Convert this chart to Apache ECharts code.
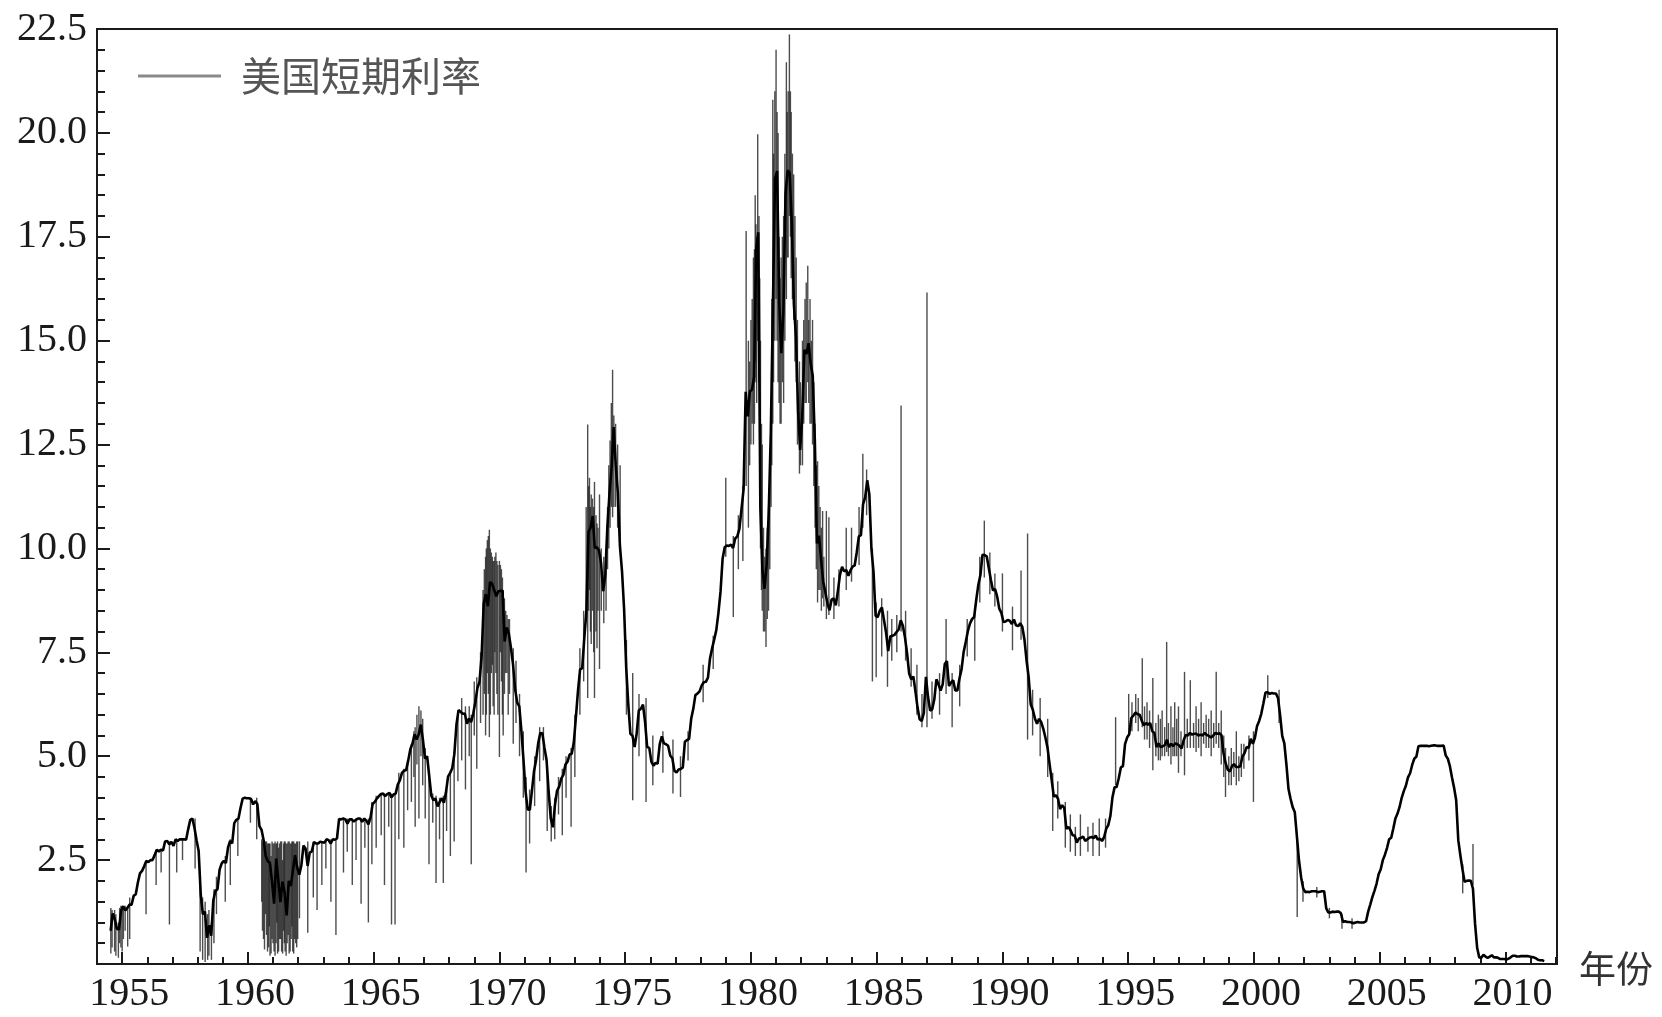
<!DOCTYPE html>
<html>
<head>
<meta charset="utf-8">
<title>美国短期利率</title>
<script src="https://cdn.jsdelivr.net/npm/echarts@6/dist/echarts.min.js"></script>
<style>
  html, body { margin: 0; padding: 0; background: #fff; }
  #chart { width: 1662px; height: 1017px; }
</style>
</head>
<body>
<div id="chart"></div>
<script>
// monthly rate, starting July 1954
const startYear = 1954, startMonth = 7;

const r1950s = [
  0.80, 1.22, 1.07, 0.85, 0.83, 1.28,
  1.39, 1.29, 1.35, 1.43, 1.43, 1.64, 1.68, 1.96, 2.18, 2.24, 2.35, 2.48,
  2.45, 2.50, 2.50, 2.62, 2.75, 2.71, 2.75, 2.73, 2.95, 2.96, 2.88, 2.94,
  2.84, 3.00, 2.96, 3.00, 3.00, 3.00, 2.99, 3.24, 3.47, 3.50, 3.28, 2.98,
  2.72, 1.67, 1.20, 1.26, 0.63, 0.93, 0.68, 1.53, 1.76, 1.80, 2.27, 2.42,
  2.48, 2.43, 2.80, 2.96, 2.90, 3.39, 3.47, 3.50, 3.76, 3.98, 4.00, 3.99
];
const r1960s = [
  3.99, 3.97, 3.84, 3.92, 3.85, 3.32, 3.23, 2.98, 2.60, 2.47, 2.44, 1.98,
  1.45, 2.54, 2.02, 1.49, 1.98, 1.73, 1.17, 2.00, 1.88, 2.26, 2.62, 2.33,
  2.15, 2.37, 2.85, 2.78, 2.36, 2.68, 2.71, 2.93, 2.90, 2.90, 2.94, 2.93,
  2.92, 3.00, 2.98, 2.90, 3.00, 2.99, 3.02, 3.49, 3.48, 3.50, 3.48, 3.38,
  3.48, 3.48, 3.43, 3.47, 3.50, 3.50, 3.42, 3.50, 3.45, 3.36, 3.52, 3.85,
  3.90, 3.98, 4.04, 4.09, 4.10, 4.04, 4.09, 4.12, 4.01, 4.08, 4.10, 4.32,
  4.42, 4.60, 4.65, 4.67, 4.90, 5.17, 5.30, 5.53, 5.40, 5.53, 5.76, 5.40,
  4.94, 5.00, 4.53, 4.05, 3.94, 3.98, 3.79, 3.90, 3.99, 3.88, 4.13, 4.51,
  4.60, 4.71, 5.05, 5.76, 6.11, 6.07, 6.02, 6.03, 5.78, 5.91, 5.82, 6.02,
  6.30, 6.64, 6.79, 7.41, 8.67, 8.90, 8.61, 9.19, 9.15, 9.00, 8.85, 8.97
];
const r1970s = [
  8.98, 8.98, 7.76, 8.10, 7.95, 7.61, 7.21, 6.61, 6.29, 6.20, 5.60, 4.90,
  4.14, 3.72, 3.71, 4.16, 4.63, 4.91, 5.31, 5.56, 5.55, 5.20, 4.91, 4.14,
  3.50, 3.29, 3.83, 4.17, 4.27, 4.46, 4.55, 4.80, 4.87, 5.04, 5.06, 5.33,
  5.94, 6.58, 7.09, 7.12, 7.84, 8.49, 10.40, 10.50, 10.78, 10.01, 10.03, 9.95,
  9.65, 8.97, 9.35, 10.51, 11.31, 11.93, 12.92, 12.01, 11.34, 10.06, 9.45, 8.53,
  7.13, 6.24, 5.54, 5.49, 5.22, 5.55, 6.10, 6.14, 6.24, 5.82, 5.22, 5.20,
  4.87, 4.77, 4.84, 4.82, 5.29, 5.48, 5.31, 5.29, 5.25, 5.02, 4.95, 4.65,
  4.61, 4.68, 4.69, 4.73, 5.35, 5.39, 5.42, 5.90, 6.14, 6.47, 6.51, 6.56,
  6.70, 6.78, 6.79, 6.89, 7.36, 7.60, 7.81, 8.04, 8.45, 8.96, 9.76, 10.03,
  10.07, 10.06, 10.09, 10.01, 10.24, 10.29, 10.47, 10.94, 11.43, 13.77, 13.18, 13.78
];
const r1980s = [
  13.82, 14.13, 17.19, 17.61, 10.98, 9.47, 9.03, 9.61, 10.87, 12.81, 15.85, 18.90,
  19.08, 15.93, 14.70, 15.72, 18.52, 19.10, 19.04, 17.82, 15.87, 15.08, 13.31, 12.37,
  13.22, 14.78, 14.68, 14.94, 14.45, 14.15, 12.59, 10.12, 10.31, 9.71, 9.20, 8.95,
  8.68, 8.51, 8.77, 8.80, 8.63, 8.98, 9.37, 9.56, 9.45, 9.48, 9.34, 9.47,
  9.56, 9.59, 9.91, 10.29, 10.32, 11.06, 11.23, 11.64, 11.30, 9.99, 9.43, 8.38,
  8.35, 8.50, 8.58, 8.27, 7.97, 7.53, 7.88, 7.90, 7.92, 7.99, 8.05, 8.27,
  8.14, 7.86, 7.48, 6.99, 6.85, 6.92, 6.56, 6.17, 5.89, 5.85, 6.04, 6.91,
  6.43, 6.10, 6.13, 6.37, 6.85, 6.73, 6.58, 6.73, 7.22, 7.29, 6.69, 6.77,
  6.83, 6.58, 6.58, 6.87, 7.09, 7.51, 7.75, 8.01, 8.19, 8.30, 8.35, 8.76,
  9.12, 9.36, 9.85, 9.84, 9.81, 9.53, 9.24, 8.99, 9.02, 8.84, 8.55, 8.45
];
const r1990s = [
  8.23, 8.24, 8.28, 8.26, 8.18, 8.29, 8.15, 8.13, 8.20, 8.11, 7.81, 7.31,
  6.91, 6.25, 6.12, 5.91, 5.78, 5.90, 5.82, 5.66, 5.45, 5.21, 4.81, 4.43,
  4.03, 4.06, 3.98, 3.73, 3.82, 3.76, 3.25, 3.30, 3.22, 3.10, 3.09, 2.92,
  3.02, 3.03, 3.07, 2.96, 3.00, 3.04, 3.06, 3.03, 3.09, 2.99, 3.02, 2.96,
  3.05, 3.25, 3.34, 3.56, 4.01, 4.25, 4.26, 4.47, 4.73, 4.76, 5.29, 5.45,
  5.53, 5.92, 5.98, 6.05, 6.01, 6.00, 5.85, 5.74, 5.80, 5.76, 5.80, 5.60,
  5.56, 5.22, 5.31, 5.22, 5.24, 5.27, 5.40, 5.22, 5.30, 5.24, 5.31, 5.29,
  5.25, 5.19, 5.39, 5.51, 5.50, 5.56, 5.52, 5.54, 5.54, 5.50, 5.52, 5.50,
  5.56, 5.51, 5.49, 5.45, 5.49, 5.56, 5.54, 5.55, 5.51, 5.07, 4.83, 4.68,
  4.63, 4.76, 4.81, 4.74, 4.74, 4.76, 4.99, 5.07, 5.22, 5.20, 5.42, 5.30
];
const r2000s = [
  5.45, 5.73, 5.85, 6.02, 6.27, 6.53, 6.54, 6.50, 6.52, 6.51, 6.51, 6.40,
  5.98, 5.49, 5.31, 4.80, 4.21, 3.97, 3.77, 3.65, 3.07, 2.49, 2.09, 1.82,
  1.73, 1.74, 1.73, 1.75, 1.75, 1.75, 1.73, 1.74, 1.75, 1.75, 1.34, 1.24,
  1.24, 1.26, 1.25, 1.26, 1.26, 1.22, 1.01, 1.03, 1.01, 1.01, 1.00, 0.98,
  1.00, 1.01, 1.00, 1.00, 1.00, 1.03, 1.26, 1.43, 1.61, 1.76, 1.93, 2.16,
  2.28, 2.50, 2.63, 2.79, 3.00, 3.04, 3.26, 3.50, 3.62, 3.78, 4.00, 4.16,
  4.29, 4.49, 4.59, 4.79, 4.94, 4.99, 5.24, 5.25, 5.25, 5.25, 5.25, 5.24,
  5.25, 5.26, 5.26, 5.25, 5.25, 5.25, 5.26, 5.02, 4.94, 4.76, 4.49, 4.24,
  3.94, 2.98, 2.61, 2.28, 1.98, 2.00, 2.01, 2.00, 1.81, 0.97, 0.39, 0.16,
  0.15, 0.22, 0.18, 0.15, 0.18, 0.21, 0.16, 0.16, 0.15, 0.12, 0.12, 0.12
];
const r2010s = [
  0.11, 0.13, 0.16, 0.20, 0.20, 0.18, 0.18, 0.19, 0.19, 0.19, 0.19, 0.18,
  0.17, 0.16, 0.14, 0.10, 0.09, 0.09, 0.07
];

// daily swings: [year, low, high]
const spikes = [
  // 1954-1959
  [1954.55, 0.25, 1.35], [1954.6, 0.4, 1.3], [1954.7, 0.3, 1.3], [1954.75, 0.2, 1.2],
  [1954.85, 0.15, 1.0], [1954.9, 0.5, 1.35], [1954.95, 0.4, 1.4], [1955.0, 0.3, 1.4],
  [1955.05, 0.6, 1.4], [1955.12, 0.8, 1.4], [1955.22, 0.42, 1.4], [1955.3, 0.6, 1.6],
  [1955.95, 1.2, 2.45], [1956.35, 1.9, 2.7], [1956.55, 2.2, 2.75], [1956.88, 0.95, 2.95],
  [1957.17, 2.2, 3.0], [1957.4, 2.5, 3.0], [1957.9, 2.3, 3.5], [1958.1, 0.3, 2.0],
  [1958.2, 0.1, 1.6], [1958.3, 0.05, 1.5], [1958.4, 0.1, 1.2], [1958.45, 0.2, 1.3],
  [1958.55, 0.1, 1.0], [1958.65, 0.5, 1.8], [1958.75, 1.2, 2.1], [1959.1, 1.5, 2.6],
  [1959.3, 1.9, 3.0], [1959.6, 2.6, 3.5], [1960.1, 3.4, 4.0], [1960.35, 3.0, 4.0],
  // 1960-1962 band
  [1960.55, 1.5, 3.0], [1960.58, 0.8, 2.95], [1960.62, 0.6, 2.9], [1960.66, 0.35, 2.9],
  [1960.7, 1.2, 2.95], [1960.74, 0.7, 2.95], [1960.78, 0.3, 2.9], [1960.82, 0.4, 2.9],
  [1960.85, 0.9, 2.9], [1960.88, 0.2, 2.9], [1960.92, 0.25, 2.6], [1960.96, 0.6, 2.95],
  [1961.0, 0.5, 2.9], [1961.04, 0.3, 2.9], [1961.08, 0.2, 2.95], [1961.12, 0.5, 2.9],
  [1961.15, 1.0, 2.9], [1961.18, 0.25, 2.95], [1961.22, 0.3, 2.8], [1961.26, 0.6, 2.9],
  [1961.3, 0.6, 2.95], [1961.34, 0.3, 2.95], [1961.38, 0.25, 2.5], [1961.42, 0.8, 2.9],
  [1961.45, 0.5, 2.95], [1961.48, 0.3, 2.95], [1961.52, 0.2, 2.9], [1961.56, 0.5, 2.9],
  [1961.6, 0.7, 2.95], [1961.64, 0.25, 2.95], [1961.68, 0.3, 2.9], [1961.72, 0.6, 2.9],
  [1961.75, 0.9, 2.95], [1961.78, 0.3, 2.95], [1961.82, 0.25, 2.95], [1961.86, 0.6, 2.9],
  [1961.9, 0.5, 2.9], [1961.94, 0.4, 2.95], [1961.98, 0.6, 2.95], [1962.05, 1.1, 2.95],
  // 1962-1968
  [1962.38, 0.75, 2.95], [1962.6, 1.6, 2.95], [1962.75, 1.3, 2.9], [1962.94, 1.9, 2.95],
  [1963.1, 2.3, 3.0], [1963.3, 1.5, 3.0], [1963.5, 0.7, 3.0], [1963.8, 2.2, 3.5],
  [1963.95, 2.7, 3.5], [1964.15, 1.9, 3.5], [1964.3, 2.5, 3.5], [1964.5, 1.45, 3.5],
  [1964.65, 2.8, 3.5], [1964.79, 1.0, 3.5], [1964.93, 2.4, 3.9], [1965.1, 2.8, 4.05],
  [1965.3, 3.1, 4.1], [1965.43, 1.9, 4.1], [1965.6, 3.3, 4.1], [1965.71, 0.95, 4.1],
  [1965.85, 0.95, 4.1], [1966.0, 3.0, 4.6], [1966.2, 2.8, 4.7], [1966.35, 3.7, 4.9],
  [1966.5, 3.9, 5.3], [1966.6, 4.5, 5.6], [1966.65, 3.3, 5.7], [1966.72, 4.8, 6.0],
  [1966.8, 3.5, 6.2], [1966.88, 5.0, 6.1], [1966.95, 4.3, 5.9], [1967.05, 3.5, 5.2],
  [1967.2, 2.4, 4.6], [1967.35, 3.4, 4.1], [1967.48, 1.95, 4.05], [1967.62, 3.0, 4.0],
  [1967.77, 1.95, 4.05], [1967.9, 3.2, 4.2], [1968.05, 2.6, 4.6], [1968.2, 2.95, 5.1],
  [1968.35, 4.4, 6.1], [1968.5, 4.9, 6.4], [1968.65, 4.2, 6.2], [1968.8, 5.0, 6.2],
  [1968.88, 2.4, 6.0], [1969.0, 5.5, 6.8],
  // 1969-1972
  [1969.1, 4.7, 6.9], [1969.25, 5.8, 7.5], [1969.35, 6.0, 9.0], [1969.4, 6.5, 9.5],
  [1969.45, 5.5, 9.8], [1969.48, 6.0, 10.0], [1969.52, 7.0, 10.2], [1969.56, 6.5, 10.3],
  [1969.6, 5.46, 10.45], [1969.64, 6.0, 10.0], [1969.68, 7.0, 9.9], [1969.72, 7.2, 9.8],
  [1969.75, 6.2, 9.7], [1969.79, 6.0, 9.7], [1969.82, 7.5, 9.8], [1969.86, 7.0, 9.9],
  [1969.9, 6.5, 9.7], [1969.94, 6.0, 9.6], [1970.0, 4.98, 9.7], [1970.04, 7.5, 9.6],
  [1970.08, 6.8, 9.5], [1970.12, 6.0, 9.3], [1970.15, 5.5, 9.0], [1970.2, 6.5, 8.8],
  [1970.25, 7.0, 8.5], [1970.3, 7.0, 8.4], [1970.35, 6.0, 8.3], [1970.4, 6.5, 8.3],
  [1970.55, 5.3, 7.6], [1970.66, 5.8, 7.3], [1970.8, 5.0, 6.5], [1970.95, 4.0, 5.6],
  [1971.06, 2.2, 4.5], [1971.2, 2.9, 4.2], [1971.4, 3.8, 5.0], [1971.6, 4.4, 5.7],
  [1971.75, 4.9, 5.7], [1971.9, 3.2, 4.8], [1972.06, 2.95, 3.8], [1972.2, 3.0, 4.0],
  [1972.35, 3.6, 4.5], [1972.5, 3.1, 4.7], [1972.65, 4.0, 5.0], [1972.85, 3.3, 5.2],
  [1973.0, 4.5, 6.0],
  // 1973-1979
  [1973.2, 6.0, 7.6], [1973.35, 6.8, 8.5], [1973.45, 8.5, 11.0], [1973.51, 6.4, 12.98],
  [1973.55, 8.5, 11.5], [1973.58, 9.0, 11.7], [1973.62, 8.0, 11.0], [1973.65, 7.7, 11.3],
  [1973.7, 8.5, 11.2], [1973.75, 7.5, 11.0], [1973.78, 6.4, 11.6], [1973.84, 8.0, 10.8],
  [1973.88, 7.6, 10.6], [1973.92, 8.5, 10.5], [1973.98, 7.1, 11.3], [1974.05, 8.5, 10.0],
  [1974.15, 8.2, 9.8], [1974.24, 8.5, 10.0], [1974.3, 9.5, 11.0], [1974.35, 10.0, 12.0],
  [1974.4, 10.5, 12.6], [1974.45, 11.0, 13.5], [1974.5, 10.75, 14.3], [1974.55, 11.0, 13.2],
  [1974.62, 11.0, 13.0], [1974.7, 10.5, 12.5], [1974.8, 10.0, 12.0], [1975.05, 6.0, 7.8],
  [1975.3, 3.94, 7.0], [1975.55, 5.0, 6.5], [1975.83, 3.9, 6.4], [1976.1, 4.3, 5.5],
  [1976.5, 4.6, 5.6], [1976.9, 4.1, 5.4], [1977.2, 4.02, 5.0], [1977.5, 4.9, 5.6],
  [1978.1, 6.3, 7.2], [1978.5, 7.1, 7.9], [1979.0, 9.8, 11.7], [1979.3, 8.35, 10.3],
  [1979.5, 9.5, 10.8], [1979.68, 9.7, 11.5], [1979.81, 11.5, 17.64], [1979.9, 10.5, 15.0],
  // 1980-1982
  [1979.95, 12.0, 14.5], [1980.0, 12.5, 15.5], [1980.05, 13.0, 16.0], [1980.1, 12.5, 17.0],
  [1980.14, 13.0, 17.2], [1980.17, 14.5, 18.5], [1980.2, 14.0, 17.8], [1980.23, 13.5, 17.5],
  [1980.27, 15.0, 19.97], [1980.32, 14.0, 18.0], [1980.35, 12.0, 16.5], [1980.38, 10.0, 15.0],
  [1980.42, 9.0, 13.0], [1980.45, 8.5, 12.5], [1980.5, 8.0, 10.5], [1980.55, 8.0, 9.8],
  [1980.6, 7.63, 10.0], [1980.65, 8.3, 10.5], [1980.7, 8.5, 11.0], [1980.75, 9.5, 12.0],
  [1980.8, 11.0, 13.5], [1980.83, 12.0, 16.0], [1980.87, 13.0, 20.8], [1980.9, 14.0, 19.5],
  [1980.95, 15.0, 21.0], [1981.0, 16.0, 22.0], [1981.04, 15.0, 20.5], [1981.08, 14.0, 20.0],
  [1981.12, 13.5, 17.5], [1981.16, 13.0, 16.5], [1981.2, 13.0, 17.0], [1981.25, 14.0, 17.5],
  [1981.3, 13.5, 18.0], [1981.35, 15.0, 19.5], [1981.41, 16.0, 21.7], [1981.44, 17.0, 20.5],
  [1981.48, 17.0, 21.0], [1981.53, 18.0, 22.37], [1981.57, 17.5, 21.0], [1981.6, 16.5, 20.5],
  [1981.65, 16.0, 19.5], [1981.7, 15.5, 19.0], [1981.75, 14.5, 18.0], [1981.8, 14.0, 17.0],
  [1981.85, 12.5, 15.5], [1981.93, 11.8, 14.5], [1981.97, 12.0, 14.0], [1982.05, 12.0, 15.0],
  [1982.1, 13.0, 15.5], [1982.15, 13.5, 16.0], [1982.2, 13.5, 16.4], [1982.26, 14.0, 16.8],
  [1982.3, 13.5, 15.5], [1982.35, 13.0, 16.0], [1982.4, 13.0, 15.0], [1982.45, 12.5, 15.5],
  [1982.5, 11.5, 14.0], [1982.55, 10.5, 13.0], [1982.6, 9.5, 12.0], [1982.65, 8.7, 12.1],
  [1982.7, 9.0, 11.5], [1982.75, 9.0, 11.0], [1982.8, 8.5, 10.5], [1982.85, 8.8, 10.9],
  [1982.9, 8.6, 9.8],
  // 1983-1991
  [1983.0, 8.3, 10.9], [1983.1, 8.4, 10.75], [1983.3, 8.3, 9.3], [1983.5, 8.6, 9.5],
  [1983.79, 9.0, 10.5], [1984.0, 9.2, 10.5], [1984.3, 9.6, 11.0], [1984.45, 10.5, 12.28],
  [1984.6, 10.8, 11.9], [1984.83, 6.8, 10.0], [1984.98, 6.9, 8.7], [1985.2, 7.4, 8.8],
  [1985.43, 6.67, 8.5], [1985.6, 7.3, 8.3], [1985.8, 7.5, 8.4], [1985.97, 8.0, 13.44],
  [1986.15, 7.3, 8.5], [1986.37, 6.67, 7.6], [1986.6, 6.0, 7.2], [1986.8, 5.7, 6.5],
  [1987.0, 5.7, 16.16], [1987.2, 5.9, 6.8], [1987.5, 6.0, 7.0], [1987.76, 6.5, 8.3],
  [1988.0, 5.7, 7.0], [1988.3, 6.2, 7.2], [1988.6, 7.4, 8.3], [1988.9, 7.3, 8.6],
  [1989.1, 8.7, 9.8], [1989.28, 9.3, 10.67], [1989.5, 8.9, 9.9], [1989.7, 8.6, 9.4],
  [1990.0, 8.0, 9.4], [1990.4, 7.55, 8.6], [1990.74, 7.8, 9.47], [1991.0, 5.4, 10.36],
  [1991.2, 5.5, 6.6], [1991.5, 5.0, 6.4], [1991.8, 4.5, 5.9],
  // 1992-1999
  [1992.0, 3.2, 4.6], [1992.2, 3.5, 4.4], [1992.5, 2.8, 3.9], [1992.7, 2.7, 3.6],
  [1992.9, 2.6, 3.3], [1993.1, 2.6, 3.6], [1993.4, 2.7, 3.3], [1993.6, 2.6, 3.4],
  [1993.85, 2.6, 3.5], [1994.1, 2.8, 3.5], [1994.5, 4.3, 5.94], [1995.02, 5.5, 6.5],
  [1995.15, 5.6, 6.3], [1995.3, 5.8, 6.5], [1995.4, 5.6, 6.4], [1995.56, 5.7, 7.36],
  [1995.65, 5.4, 6.2], [1995.75, 5.4, 6.3], [1995.85, 5.2, 6.1], [1995.98, 4.66, 6.88],
  [1996.1, 5.0, 5.8], [1996.2, 4.9, 6.0], [1996.28, 4.9, 5.9], [1996.35, 5.0, 6.1],
  [1996.45, 5.0, 5.7], [1996.53, 5.1, 7.75], [1996.6, 5.0, 5.8], [1996.7, 4.8, 6.2],
  [1996.78, 5.0, 5.7], [1996.85, 5.0, 6.3], [1996.93, 5.0, 5.9], [1997.0, 4.6, 6.2],
  [1997.1, 5.0, 5.6], [1997.24, 4.54, 7.03], [1997.35, 5.2, 5.9], [1997.47, 5.2, 6.83],
  [1997.6, 5.2, 5.8], [1997.7, 5.1, 6.2], [1997.8, 5.2, 5.9], [1997.9, 5.0, 6.3],
  [1998.0, 5.3, 5.8], [1998.1, 5.2, 6.0], [1998.2, 5.2, 5.9], [1998.3, 5.0, 6.1],
  [1998.4, 5.2, 5.8], [1998.5, 5.3, 7.03], [1998.6, 5.2, 5.8], [1998.7, 4.8, 6.1],
  [1998.8, 4.5, 5.5], [1998.87, 4.02, 5.2], [1999.0, 4.3, 5.0], [1999.1, 4.3, 5.2],
  [1999.2, 4.5, 5.1], [1999.3, 4.3, 5.6], [1999.4, 4.4, 5.0], [1999.5, 4.5, 5.3],
  [1999.6, 4.7, 5.3], [1999.8, 4.9, 5.5], [1999.98, 3.9, 5.6],
  // 2000-2008
  [2000.55, 6.4, 6.95], [2001.0, 5.8, 6.6], [2001.72, 1.13, 3.0], [2001.95, 1.5, 2.0],
  [2002.5, 1.6, 1.85], [2003.0, 1.1, 1.35], [2003.5, 0.85, 1.2], [2003.9, 0.85, 1.1],
  [2008.3, 1.7, 2.4], [2008.71, 1.9, 2.89]
];

const xTickYears = [1955, 1960, 1965, 1970, 1975, 1980, 1985, 1990, 1995, 2000, 2005, 2010];
const yTicks = [2.5, 5.0, 7.5, 10.0, 12.5, 15.0, 17.5, 20.0, 22.5];

const rates = [].concat(r1950s, r1960s, r1970s, r1980s, r1990s, r2000s, r2010s);
const lineData = rates.map((v, i) => [startYear + (startMonth - 1 + i + 0.5) / 12, v]);
const minorYears = [];
for (let y = 1954; y <= 2012; y++) if (y % 5 !== 0) minorYears.push(y);

const serif = 'Liberation Serif';
const ink = '#1a1a1a';

const chart = echarts.init(document.getElementById('chart'));
chart.setOption({
  backgroundColor: '#fff',
  animation: false,
  grid: {
    left: 97, right: 105, top: 29, bottom: 53,
    show: true, borderColor: ink, borderWidth: 2
  },
  legend: {
    data: ['美国短期利率'],
    left: 138, top: 56, padding: 0,
    icon: 'rect',
    itemWidth: 83, itemHeight: 3,
    itemStyle: { color: '#8a8a8a' },
    textStyle: {
      fontFamily: 'Noto Sans CJK SC', fontSize: 40, color: '#555',
      padding: [0, 0, 0, 15]
    }
  },
  xAxis: [
    {
      type: 'value', min: 1954.0, max: 2012.05,
      name: '年份', nameLocation: 'end', nameGap: 22,
      nameTextStyle: {
        fontFamily: 'Noto Sans CJK SC', fontSize: 37, color: '#333',
        align: 'left', verticalAlign: 'top', lineHeight: 10
      },
      axisLine: { show: true, lineStyle: { color: ink, width: 2 } },
      axisTick: { show: true, inside: true, length: 12, customValues: xTickYears, lineStyle: { color: ink, width: 2 } },
      axisLabel: {
        customValues: xTickYears, fontFamily: serif, fontSize: 40, color: ink, margin: 10,
        padding: [0, 0, 0, 14],
        formatter: v => String(v)
      },
      splitLine: { show: false }
    },
    {
      type: 'value', min: 1954.0, max: 2012.05, position: 'bottom',
      axisLine: { show: false },
      axisTick: { show: true, inside: true, length: 7, customValues: minorYears, lineStyle: { color: ink, width: 2 } },
      axisLabel: { show: false },
      splitLine: { show: false }
    }
  ],
  yAxis: {
    type: 'value', min: 0, max: 22.5, interval: 2.5,
    axisLine: { show: true, lineStyle: { color: ink, width: 2 } },
    axisTick: { show: true, inside: true, length: 13, lineStyle: { color: ink, width: 2 } },
    minorTick: { show: true, splitNumber: 5, length: 8, lineStyle: { color: ink, width: 2 } },
    axisLabel: {
      fontFamily: serif, fontSize: 40, color: ink, margin: 10,
      formatter: v => (yTicks.indexOf(v) >= 0 ? v.toFixed(1) : '')
    },
    splitLine: { show: false }
  },
  series: [
    {
      type: 'custom',
      name: 'spikes',
      xAxisIndex: 0,
      data: spikes,
      encode: { x: 0, y: [1, 2] },
      clip: true,
      z: 1,
      silent: true,
      renderItem: (params, api) => {
        const a = api.coord([api.value(0), api.value(1)]);
        const b = api.coord([api.value(0), api.value(2)]);
        return {
          type: 'line',
          shape: { x1: a[0], y1: a[1], x2: b[0], y2: b[1] },
          style: { stroke: '#202020', lineWidth: 1.4, opacity: 0.8 }
        };
      }
    },
    {
      type: 'line',
      name: '美国短期利率',
      xAxisIndex: 0,
      data: lineData,
      symbol: 'none',
      z: 3,
      lineStyle: { color: '#000', width: 2.6 }
    }
  ]
});
</script>
</body>
</html>
